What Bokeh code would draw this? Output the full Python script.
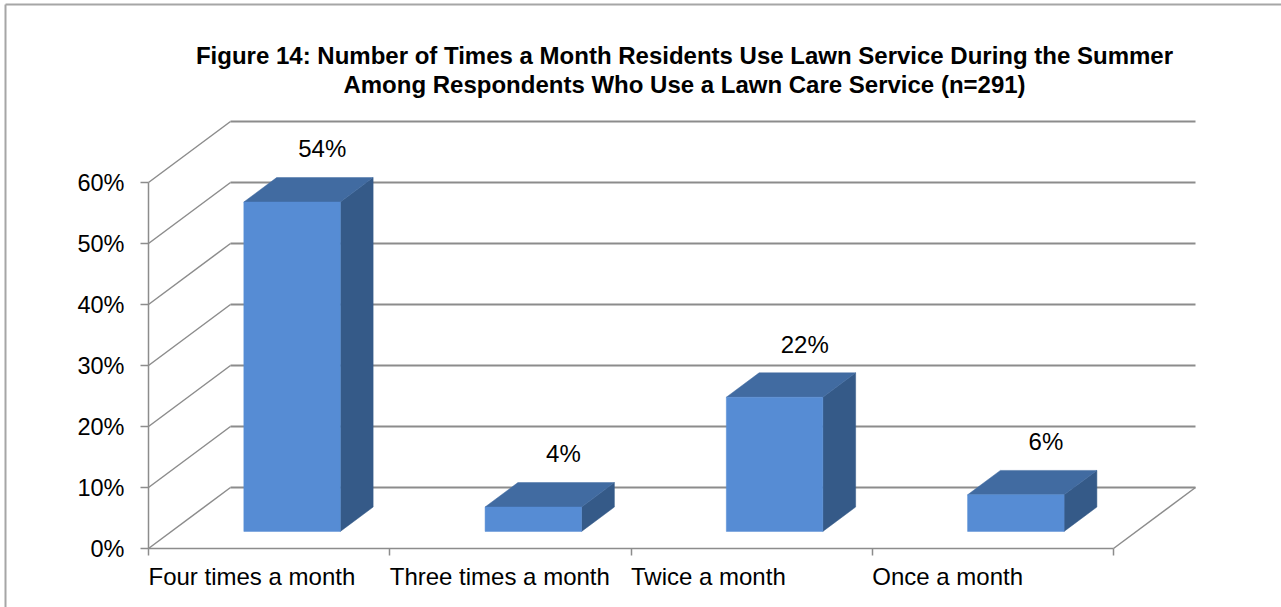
from bokeh.plotting import figure
from bokeh.models import (Range1d, LinearAxis, FixedTicker, PrintfTickFormatter,
                          ColumnDataSource, Label)
from bokeh.core.properties import value
from bokeh.embed import file_html
from bokeh.resources import INLINE

# ---------------- data ----------------
categories = ["Four times a month", "Three times a month", "Twice a month", "Once a month"]
percents = [54, 4, 22, 6]
y_ticks = [0, 10, 20, 30, 40, 50, 60]
title_lines = ["Figure 14: Number of Times a Month Residents Use Lawn Service During the Summer",
               "Among Respondents Who Use a Lawn Care Service (n=291)"]

# ---------------- layout constants (pixels) ----------------
W, H = 1281, 607
LEFT_PX = 148.0      # pixel x of category axis origin
CAT_PX = 241.25      # pixels per category
ZERO_PX = 548.0      # pixel y of 0%
PCT_PX = 6.1         # pixels per percent
DX = 82.0 / CAT_PX   # depth offset of back wall (category units)
DY = 61.0 / PCT_PX   # depth offset of back wall (percent units)
D1, D2 = 0.28, 0.68  # bar front/back depth fraction
BAR_W = 0.40

def px_x(px):
    return (px - LEFT_PX) / CAT_PX

def px_y(py):
    return (ZERO_PX - py) / PCT_PX

FONT = "Liberation Sans"
GRID = "#8C8C8C"

p = figure(width=W, height=H, x_range=Range1d(px_x(0), px_x(W)), y_range=Range1d(px_y(H), px_y(0)),
           x_axis_type=None, y_axis_type=None, output_backend="svg", toolbar_location=None,
           tools="", min_border=0)
p.title.visible = False
p.outline_line_color = None
p.background_fill_color = "white"
p.border_fill_color = "white"

n = len(categories)
top = max(y_ticks)

# outer chart border (top and left edges visible)
p.segment(x0=[px_x(5), px_x(5)], y0=[px_y(4), px_y(4)], x1=[px_x(5), px_x(W + 20)],
          y1=[px_y(H + 20), px_y(4)], line_color="#A6A6A6", line_width=2)

# back wall gridlines
p.multi_line(xs=[[DX, n + DX] for _ in y_ticks], ys=[[t + DY, t + DY] for t in y_ticks],
             line_color=GRID, line_width=2)
# side wall diagonals
p.multi_line(xs=[[0, DX] for _ in y_ticks], ys=[[t, t + DY] for t in y_ticks],
             line_color=GRID, line_width=1.5)
# floor right edge
p.multi_line(xs=[[n, n + DX]], ys=[[0, DY]], line_color=GRID, line_width=1.5)

# bars
front_x, front_y, top_x, top_y, side_x, side_y = [], [], [], [], [], []
for i, v in enumerate(percents):
    x0 = i + 0.5 - BAR_W / 2
    x1 = i + 0.5 + BAR_W / 2
    fx0, fx1 = x0 + D1 * DX, x1 + D1 * DX
    bx0, bx1 = x0 + D2 * DX, x1 + D2 * DX
    fy0, fy1 = D1 * DY, v + D1 * DY
    by0, by1 = D2 * DY, v + D2 * DY
    front_x.append([fx0, fx1, fx1, fx0]); front_y.append([fy0, fy0, fy1, fy1])
    top_x.append([fx0, fx1, bx1, bx0]); top_y.append([fy1, fy1, by1, by1])
    side_x.append([fx1, bx1, bx1, fx1]); side_y.append([fy0, by0, by1, fy1])

p.patches(xs=side_x, ys=side_y, fill_color="#355A88", line_color="#355A88", line_width=0.5)
p.patches(xs=top_x, ys=top_y, fill_color="#416BA1", line_color="#416BA1", line_width=0.5)
p.patches(xs=front_x, ys=front_y, fill_color="#568CD4", line_color="#568CD4", line_width=0.5)

# data labels
lab = ColumnDataSource(dict(x=[i + 0.5 + 0.22 for i in range(n)],
                            y=[v + 11.5 for v in percents],
                            t=[f"{v}%" for v in percents]))
p.text(x="x", y="y", text="t", source=lab, text_font=value(FONT), text_font_size="24px",
       text_color="black", text_align="center", text_baseline="middle")

# y axis (front left edge)
yax = LinearAxis(fixed_location=0, bounds=(0, top), ticker=FixedTicker(ticks=y_ticks),
                 formatter=PrintfTickFormatter(format="%d%%"))
yax.axis_line_color = GRID
yax.axis_line_width = 1.5
yax.major_tick_line_color = GRID
yax.major_tick_line_width = 1.5
yax.major_tick_in = 0
yax.major_tick_out = 8
yax.minor_tick_line_color = None
yax.major_label_standoff = 16
yax.major_label_text_font = FONT
yax.major_label_text_font_size = "23.5px"
yax.major_label_text_color = "black"
p.add_layout(yax, "left")

# x axis (front floor edge): line and ticks; category names are left-aligned at ticks
xax = LinearAxis(fixed_location=0, bounds=(0, n), ticker=FixedTicker(ticks=list(range(n + 1))))
xax.major_label_overrides = {i: "" for i in range(n + 1)}
xax.axis_line_color = GRID
xax.axis_line_width = 1.5
xax.major_tick_line_color = GRID
xax.major_tick_line_width = 1.5
xax.major_tick_in = 0
xax.major_tick_out = 7
xax.minor_tick_line_color = None
p.add_layout(xax, "below")

cat_src = ColumnDataSource(dict(x=list(range(n)), y=[-(562 - ZERO_PX) / PCT_PX] * n, t=categories))
p.text(x="x", y="y", text="t", source=cat_src, text_font=value(FONT), text_font_size="24px",
       text_color="black", text_align="left", text_baseline="top")

# title
for k, line in enumerate(title_lines):
    p.add_layout(Label(x=px_x(684), y=px_y(55 + 29 * k), text=line, text_align="center",
                       text_baseline="middle", text_font=FONT, text_font_style="bold",
                       text_font_size="24px", text_color="black"))

open("out.html", "w").write(file_html(p, INLINE))
